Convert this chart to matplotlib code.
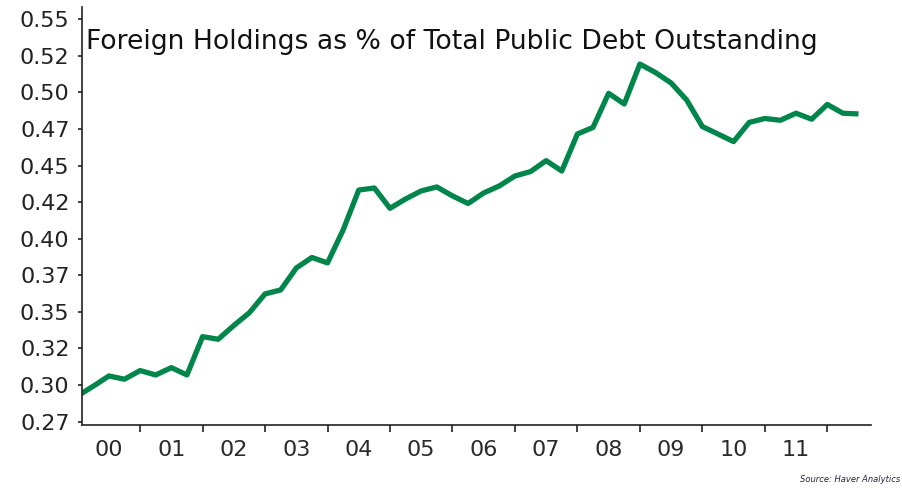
import matplotlib
matplotlib.use("Agg")
import matplotlib.pyplot as plt
import numpy as np

# Quarterly data, 2000Q1 .. 2012Q3 (x = fractional year)
quarters = [2000 + k / 4 for k in range(51)]
foreign_share = [
    0.2926, 0.2992, 0.3062, 0.3040,   # 2000
    0.3099, 0.3069, 0.3119, 0.3069,   # 2001
    0.3331, 0.3313, 0.3407, 0.3495,   # 2002
    0.3623, 0.3650, 0.3800, 0.3872,   # 2003
    0.3835, 0.4060, 0.4333, 0.4347,   # 2004
    0.4208, 0.4272, 0.4327, 0.4354,   # 2005
    0.4293, 0.4241, 0.4313, 0.4361,   # 2006
    0.4429, 0.4459, 0.4534, 0.4463,   # 2007
    0.4716, 0.4761, 0.4994, 0.4921,   # 2008
    0.5194, 0.5136, 0.5065, 0.4948,   # 2009
    0.4767, 0.4716, 0.4664, 0.4795,   # 2010
    0.4822, 0.4810, 0.4858, 0.4817,   # 2011
    0.4918, 0.4858, 0.4853,           # 2012
]

year_ticks = list(range(2001, 2013))
year_label_pos = [y + 0.5 for y in range(2000, 2012)]
year_labels = ["00", "01", "02", "03", "04", "05", "06", "07", "08", "09", "10", "11"]

y_ticks = [0.275, 0.30, 0.325, 0.35, 0.375, 0.40, 0.425, 0.45, 0.475, 0.50, 0.525, 0.55]
y_tick_labels = ["0.27", "0.30", "0.32", "0.35", "0.37", "0.40", "0.42", "0.45",
                 "0.47", "0.50", "0.52", "0.55"]

title = "Foreign Holdings as % of Total Public Debt Outstanding"
source = "Source: Haver Analytics"

plt.rcParams['font.family'] = ['DejaVu Sans']

fig = plt.figure(figsize=(9.02, 4.88), dpi=100)
ax = fig.add_axes([82 / 902, 1 - 425 / 488, (871 - 82) / 902, (425 - 7) / 488])

ax.plot(quarters, foreign_share, color="#00854a", linewidth=3.8,
        solid_joinstyle="round", solid_capstyle="butt")

ax.set_xlim(2000.07, 2012.7)
ax.set_ylim(0.2727, 0.5584)

for s in ["top", "right"]:
    ax.spines[s].set_visible(False)
for s in ["left", "bottom"]:
    ax.spines[s].set_linewidth(1.2)
    ax.spines[s].set_color("#222222")

ax.set_yticks(y_ticks)
ax.set_yticklabels(y_tick_labels, fontsize=16, color="#2a2a2a")
ax.tick_params(axis="y", direction="out", length=3, width=1.2, pad=6, colors="#222222")

ax.set_xticks(year_ticks)
ax.set_xticklabels([])
ax.tick_params(axis="x", which="major", direction="out", length=5, width=1.2, colors="#222222")
ax.set_xticks(year_label_pos, minor=True)
ax.set_xticklabels(year_labels, minor=True, fontsize=16, color="#2a2a2a")
ax.tick_params(axis="x", which="minor", length=0, pad=11)

fig.text(86 / 902, 1 - 42 / 488, title, fontsize=19.2, color="#111111",
         ha="left", va="center")
fig.text(900 / 902, 1 - 479 / 488, source, fontsize=6, style="italic",
         color="#222244", ha="right", va="center")

fig.savefig("out.png", dpi=100)
